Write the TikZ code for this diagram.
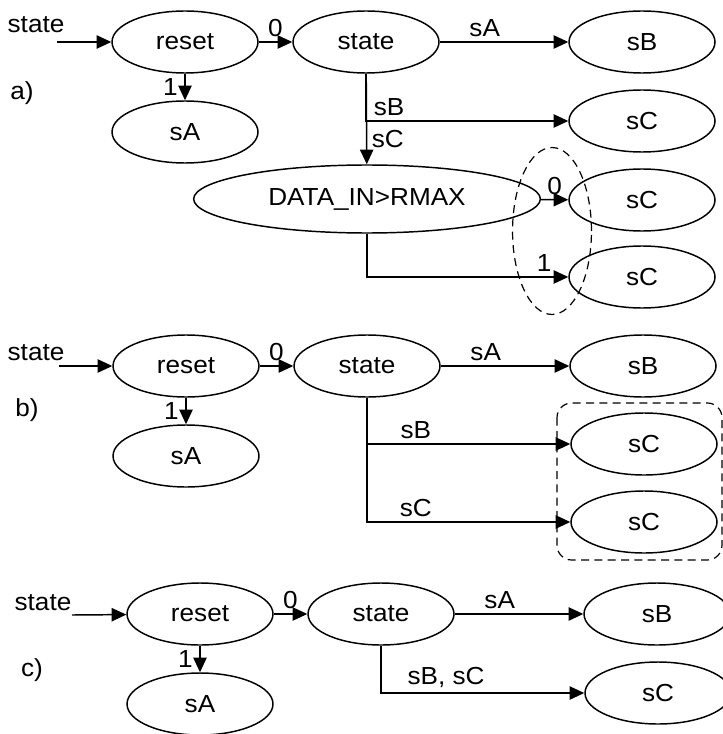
\documentclass[tikz,border=0pt]{standalone}
\usepackage{fontspec}
\setmainfont{Liberation Sans}[FakeStretch=1.06]
\usetikzlibrary{arrows.meta,positioning,shapes.geometric}

\begin{document}
\begin{tikzpicture}[->,>={Triangle[length=11pt,width=10pt]},line width=1.1pt,
  x=0.75pt,y=-0.75pt,node distance=135.75pt,
  font=\fontsize{18.5}{22}\selectfont,
  bubble/.style={draw,ellipse,minimum width=109.5pt,minimum height=46.5pt,inner sep=0pt},
  cond/.style={bubble,minimum width=260pt,minimum height=51pt},
  tick/.style={left,inner sep=3pt,xshift=-2pt},
  group/.style={-,dash pattern=on 6pt off 4pt,line width=0.9pt}]
  \useasboundingbox (0,0) rectangle (723,734);
  % a)
  \node (txtA) at (36,25) {state};
  \coordinate (inA) at (57,42);
  \node[bubble] (resetA) at (185,42) {reset};
  \node[bubble] (stateA) [right of=resetA] {state};
  \node[bubble] (sBA) [right of=stateA,node distance=207pt] {sB};
  \node[bubble] (sAA) [below of=resetA,node distance=67.5pt] {sA};
  \node (tagA) at (22,93) {a)};
  \node[bubble] (sCA) at (642,121) {sC};
  \node[cond] (dataA) at (367,199) {DATA\_IN>RMAX};
  \node[bubble] (sCA0) at (642,200) {sC};
  \node[bubble] (sCA1) at (642,277) {sC};
  \path (inA) edge (resetA)
        (resetA) edge node[above] {0} (stateA)
        (resetA) edge node[tick] {1} (sAA)
        (stateA) edge node[above,pos=0.35] {sA} (sBA)
        (stateA) edge node[right,pos=0.72] {sC} (dataA)
        (dataA) edge node[above] {0} (sCA0);
  \draw (stateA.south) |- node[above right,pos=0.5,xshift=2pt] {sB} (sCA.west);
  \draw (dataA.south) |- node[above,pos=0.94] {1} (sCA1.west);
  \draw[group] (552,231) ellipse [x radius=29.6pt,y radius=62.6pt];
  % b)
  \node (txtB) at (36,353) {state};
  \coordinate (inB) at (59,366);
  \node[bubble] (resetB) at (186,366) {reset};
  \node[bubble] (stateB) [right of=resetB] {state};
  \node[bubble] (sBB) [right of=stateB,node distance=207pt] {sB};
  \node[bubble] (sAB) [below of=resetB,node distance=67.5pt] {sA};
  \node (tagB) at (27,410) {b)};
  \node[bubble] (sCB) at (644,444) {sC};
  \node[bubble] (sCB1) at (644,522) {sC};
  \path (inB) edge (resetB)
        (resetB) edge node[above] {0} (stateB)
        (resetB) edge node[tick] {1} (sAB)
        (stateB) edge node[above,pos=0.35] {sA} (sBB);
  \draw (stateB.south) |- node[above,pos=0.62] {sB} (sCB.west);
  \draw (stateB.south) |- node[above,pos=0.62] {sC} (sCB1.west);
  \draw[group,rounded corners=11pt] (557,403) rectangle (722,560);
  % c)
  \node (txtC) at (43,603) {state};
  \coordinate (inC) at (72,615);
  \node[bubble] (resetC) at (200,614) {reset};
  \node[bubble] (stateC) [right of=resetC] {state};
  \node[bubble] (sBC) [right of=stateC,node distance=207pt] {sB};
  \node[bubble] (sAC) [below of=resetC,node distance=67.5pt] {sA};
  \node (tagC) at (32,670) {c)};
  \node[bubble] (sCC) at (658,693) {sC};
  \path (inC) edge (resetC)
        (resetC) edge node[above] {0} (stateC)
        (resetC) edge node[tick] {1} (sAC)
        (stateC) edge node[above,pos=0.35] {sA} (sBC);
  \draw (stateC.south) |- node[above,pos=0.66] {sB, sC} (sCC.west);
\end{tikzpicture}
\end{document}
